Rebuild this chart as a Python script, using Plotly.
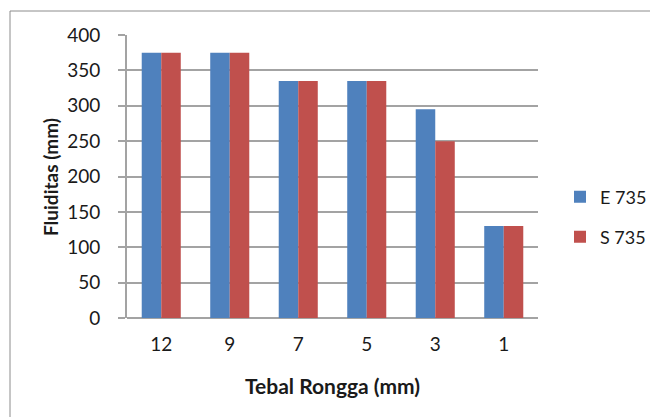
import plotly.graph_objects as go

categories = ["12", "9", "7", "5", "3", "1"]
e735 = [375, 375, 335, 335, 295, 130]
s735 = [375, 375, 335, 335, 250, 130]
y_ticks = [0, 50, 100, 150, 200, 250, 300, 350, 400]

FONT = "Lato, 'Open Sans', sans-serif"

fig = go.Figure()
fig.add_bar(x=categories, y=e735, name="E 735", marker_color="#4F81BD",
            marker_line_width=0, legend="legend")
fig.add_bar(x=categories, y=s735, name="S 735", marker_color="#C0504D",
            marker_line_width=0, legend="legend2")

W, H = 650, 417
L, R, T, B = 127, 538, 35, 318

def px_x(p):
    return (p - L) / (R - L)

def px_y(p):
    return (B - p) / (B - T)

legend_common = dict(xref="container", yref="container", xanchor="left",
                     yanchor="middle", font=dict(size=18),
                     bgcolor="rgba(0,0,0,0)", visible=True)

GRID = "#a3a3a3"

fig.update_layout(
    width=W, height=H,
    margin=dict(l=L, r=W - R, t=T, b=H - B, autoexpand=False),
    paper_bgcolor="white", plot_bgcolor="white",
    showlegend=True,
    barmode="group", bargap=0.43, bargroupgap=0,
    font=dict(family=FONT, size=19, color="#1a1a1a"),
    xaxis=dict(
        type="category", showgrid=False, showline=False,
        ticks="", tickfont=dict(size=19), ticklabelstandoff=13,
        automargin=False,
    ),
    yaxis=dict(
        range=[0, 400], tickvals=y_ticks, showgrid=True,
        gridcolor=GRID, gridwidth=1.8,
        showline=True, linecolor=GRID, linewidth=1.8,
        ticks="outside", ticklen=7, tickcolor=GRID, tickwidth=1.8,
        tickfont=dict(size=19), ticklabelstandoff=14, automargin=False,
        zeroline=True, zerolinecolor=GRID, zerolinewidth=1.8,
    ),
    annotations=[
        dict(text="<b>Tebal Rongga (mm)</b>", xref="paper", yref="paper",
             x=px_x(332), y=px_y(385), xanchor="center", yanchor="middle",
             showarrow=False, font=dict(size=21)),
        dict(text="<b>Fluiditas (mm)</b>", xref="paper", yref="paper",
             x=px_x(50), y=px_y(177), xanchor="center", yanchor="middle",
             textangle=-90, showarrow=False, font=dict(size=19)),
    ],
    legend=dict(x=560 / W, y=1 - 197 / H, **legend_common),
    legend2=dict(x=560 / W, y=1 - 237 / H, **legend_common),
    shapes=[dict(type="rect", xref="paper", yref="paper",
                 x0=px_x(10), y0=px_y(430), x1=px_x(700), y1=px_y(11),
                 line=dict(color="#8c8c8c", width=1), fillcolor="rgba(0,0,0,0)",
                 layer="below")],
)

fig.write_html("out.html")
